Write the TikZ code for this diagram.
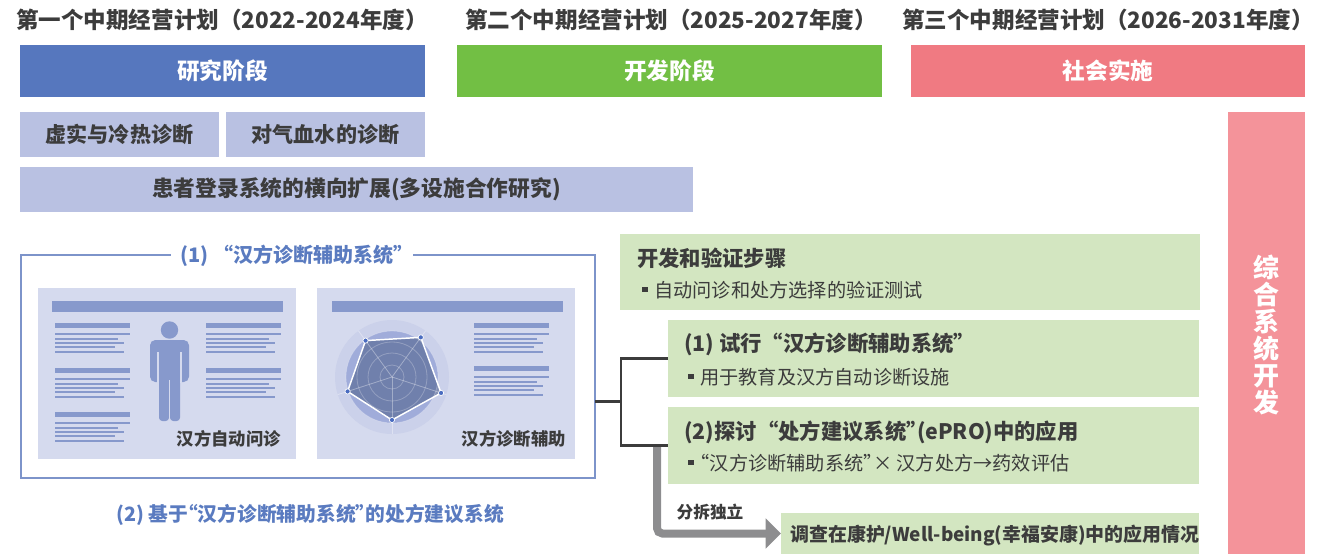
\documentclass[tikz,border=0pt]{standalone}
\usepackage{fontspec}
\setmainfont{Noto Sans CJK SC}
\usetikzlibrary{calc,arrows.meta}

\definecolor{cblue}{HTML}{5677BE}
\definecolor{cgreen}{HTML}{72BF44}
\definecolor{cpink}{HTML}{F07A82}
\definecolor{cpinkv}{HTML}{F4939A}
\definecolor{clav}{HTML}{B9C1E2}
\definecolor{cpanel}{HTML}{D5DAEE}
\definecolor{cbar}{HTML}{8799CC}
\definecolor{cframe}{HTML}{7D94CA}
\definecolor{ctitle}{HTML}{5A7BC0}
\definecolor{cgbox}{HTML}{D3E6C1}
\definecolor{ctext}{HTML}{3C3C3C}
\definecolor{cgarrow}{HTML}{8D8D8F}
\definecolor{cradarA}{HTML}{CBD1EA}
\definecolor{cradarB}{HTML}{A0ACDA}
\definecolor{cradarC}{HTML}{4A5C88}
\definecolor{cdot}{HTML}{4A6CC0}

% square bullet and narrow quotation marks
\newcommand{\bul}{\raisebox{0.28em}{\rule{0.28em}{0.28em}}\hspace{0.35em}}
\newcommand{\qo}{\makebox[0.5em][r]{“}}
\newcommand{\qc}{\makebox[0.5em][l]{”}}

\tikzset{
  blk/.style={inner sep=0pt, outer sep=0pt, anchor=north west},
  sz/.style 2 args={minimum width={#1*0.75pt}, minimum height={#2*0.75pt}},
  hdr/.style={text=ctext, font=\fontsize{16.9}{18}\selectfont\bfseries, inner sep=0pt},
  bartxt/.style={text=white, font=\fontsize{17}{19}\selectfont\bfseries},
  lavtxt/.style={text=ctext, font=\fontsize{15.8}{18}\selectfont\bfseries},
  gtitle/.style={text=ctext, font=\fontsize{16}{18}\selectfont\bfseries, anchor=west, inner sep=0pt},
  gbullet/.style={text=ctext, font=\fontsize{14.4}{16}\selectfont, anchor=west, inner sep=0pt},
  conn/.style={draw=ctext, line width=1.6pt, line join=miter},
  splitarrow/.style={draw=cgarrow, line width=6pt, rounded corners=4pt,
    -{Triangle[length=11.5pt, width=22pt]}},
  pics/txtblk/.style={code={
    \fill[cbar] (0,0) rectangle (75,5);
    \fill[cbar] (0,10) rectangle (75,12);
    \fill[cbar] (0,15) rectangle (63,17);
    \fill[cbar] (0,19) rectangle (69,21);
    \fill[cbar] (0,23) rectangle (60,25);
    \fill[cbar] (0,28) rectangle (69,30);
  }}
}

\begin{document}
\begin{tikzpicture}[x=0.75pt, y=-0.75pt]
\useasboundingbox (0,0) rectangle (1338,554);

% plan headings
\node[hdr] (h1) at (222,20) {第一个中期经营计划（2022-2024年度）};
\node[hdr] (h2) at (671,20) {第二个中期经营计划（2025-2027年度）};
\node[hdr] (h3) at (1108,20) {第三个中期经营计划（2026-2031年度）};

% phase bars
\node[blk, sz={405}{52}, fill=cblue, bartxt] (p1) at (20,45) {研究阶段};
\node[blk, sz={425}{52}, fill=cgreen, bartxt] (p2) at (457,45) {开发阶段};
\node[blk, sz={394}{52}, fill=cpink, bartxt] (p3) at (911,45) {社会实施};

% research topics
\node[blk, sz={199}{45}, fill=clav, lavtxt] (r1) at (20,112) {虚实与冷热诊断};
\node[blk, sz={199}{45}, fill=clav, lavtxt] (r2) at (226,112) {对气血水的诊断};
\node[blk, sz={673}{45}, fill=clav, lavtxt, font=\fontsize{16.3}{18}\selectfont\bfseries] (r3) at (20,167) {患者登录系统的横向扩展(多设施合作研究)};

% integrated system column
\node[blk, sz={77}{442}, fill=cpinkv] (col) at (1228,112) {};
\node[text=white, font=\fontsize{19.5}{20.3}\selectfont\bfseries, align=center, inner sep=0pt] (coltxt) at (1266,335) {综\\合\\系\\统\\开\\发};

% system frame
\node[blk, sz={574}{223}, draw=cframe, line width=1.1pt] (frame) at (21,255) {};
\node[fill=white, text=ctitle, font=\fontsize{15}{17}\selectfont\bfseries, inner xsep=7pt, inner ysep=1pt] (ftitle) at (292,256) {(1) “汉方诊断辅助系统\qc};

% screen panels
\node[blk, sz={258}{171}, fill=cpanel] (s1) at (38,288) {};
\node[blk, sz={258}{171}, fill=cpanel] (s2) at (317,288) {};
\fill[cbar] (52,301) rectangle (283,312);
\fill[cbar] (332,301) rectangle (563,312);

% left screen: text blocks and person
\pic at (55,323) {txtblk};
\pic at (55,368) {txtblk};
\pic at (55,412) {txtblk};
\pic at (206,323) {txtblk};
\pic at (206,368) {txtblk};
\fill[cbar] (169.5,330) circle (8.7);
\fill[cbar, rounded corners=4pt] (150,382) -- (150,340) -- (189,340) -- (189,382) -- cycle;
\fill[cbar, rounded corners=2.5pt] (159,372) rectangle (169,421);
\fill[cbar, rounded corners=2.5pt] (170,372) rectangle (180,421);
\draw[cpanel, line width=1pt] (158,352) -- (158,383);
\draw[cpanel, line width=1pt] (181,352) -- (181,383);
\draw[cpanel, line width=0.8pt] (169.5,380) -- (169.5,422);

% right screen: radar chart and text blocks
\pic at (474,323) {txtblk};
\pic at (474,366) {txtblk};
\begin{scope}[shift={(392,377)}]
  \fill[cradarA] (0,0) circle (57);
  \fill[cradarB] (0,0) circle (46);
  \fill[cradarC, fill opacity=0.55] (-126:45) -- (-54:49) -- (18:51.6) -- (90:43) -- (162:46.7) -- cycle;
  \foreach \r in {12,24,35,46}
    \draw[white, opacity=0.25, line width=0.6pt] (0,0) circle (\r);
  \foreach \a in {-126,-54,18,90,162}
    \draw[white, opacity=0.35, line width=0.6pt] (0,0) -- (\a:57);
  \draw[white, line width=1.1pt, line join=round] (-126:45) -- (-54:49) -- (18:51.6) -- (90:43) -- (162:46.7) -- cycle;
  \foreach \a/\r in {-126/45,-54/49,18/51.6,90/43,162/46.7}
    \fill[cdot, draw=white, line width=0.5pt] (\a:\r) circle (2.6);
\end{scope}

\node[anchor=east, text=ctext, font=\fontsize{13}{15}\selectfont\bfseries, inner sep=0pt] (l1) at (281,439) {汉方自动问诊};
\node[anchor=east, text=ctext, font=\fontsize{13}{15}\selectfont\bfseries, inner sep=0pt] (l2) at (566,439) {汉方诊断辅助};

% caption under frame
\node[text=ctitle, font=\fontsize{14.8}{17}\selectfont\bfseries, inner sep=0pt] (cap) at (310,515) {(2) 基于\qo 汉方诊断辅助系统\qc 的处方建议系统};

% development steps
\node[blk, sz={580}{76}, fill=cgbox] (g0) at (620,234) {};
\node[gtitle] (g0t) at ($(g0.north west)+(17,24)$) {开发和验证步骤};
\node[gbullet] (g0b) at ($(g0.north west)+(22,56)$) {\bul 自动问诊和处方选择的验证测试};

\node[blk, sz={531}{77}, fill=cgbox] (g1) at (668,320) {};
\node[gtitle] (g1t) at ($(g1.north west)+(16,24)$) {(1) 试行“汉方诊断辅助系统\qc};
\node[gbullet] (g1b) at ($(g1.north west)+(20,57)$) {\bul 用于教育及汉方自动诊断设施};

\node[blk, sz={531}{77}, fill=cgbox] (g2) at (668,407) {};
\node[gtitle] (g2t) at ($(g2.north west)+(16,25)$) {(2)探讨“处方建议系统\qc(ePRO)中的应用};
\node[gbullet] (g2b) at ($(g2.north west)+(20,56)$) {\bul\qo 汉方诊断辅助系统\qc × 汉方处方→药效评估};

\node[blk, sz={418}{41}, fill=cgbox] (g3) at (781,513) {};
\node[gtitle, font=\fontsize{14.2}{17}\selectfont\bfseries] (g3t) at ($(g3.north west)+(9,23)$) {调查在康护/Well-being(幸福安康)中的应用情况};

% connectors
\coordinate (jn) at (621,401.5);
\draw[conn] (frame.east |- jn) -- (jn);
\draw[conn] (g1.west) -| (jn) |- (g2.west);
\coordinate (sx) at (657,447);
\draw[splitarrow] (sx) |- (g3.west);
\node[text=ctext, font=\fontsize{12.5}{14}\selectfont\bfseries, inner sep=0pt] (split) at (710,512) {分拆独立};

\end{tikzpicture}
\end{document}
